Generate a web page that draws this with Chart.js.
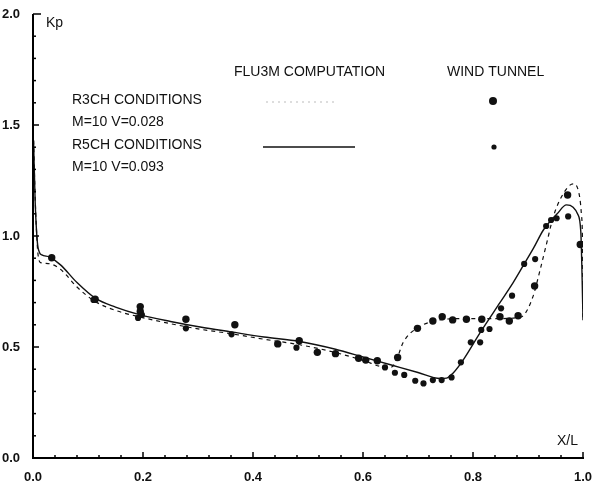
<!DOCTYPE html>
<html>
<head>
<meta charset="utf-8">
<script src="https://cdn.jsdelivr.net/npm/chart.js@4/dist/chart.umd.min.js"></script>
<style>
  html, body { margin: 0; padding: 0; background: #fff; }
  canvas { display: block; }
</style>
</head>
<body>
<canvas id="c" width="592" height="481"></canvas>
<script>
// ---- Data ----
// FLU3M computation, R5CH conditions (solid line)
const r5chCompX = [0.001, 0.004, 0.008, 0.012, 0.016, 0.03, 0.05, 0.08, 0.113, 0.15, 0.195, 0.25, 0.304, 0.36, 0.42, 0.485, 0.55, 0.60, 0.65, 0.70, 0.74, 0.752, 0.764, 0.782, 0.813, 0.849, 0.873, 0.891, 0.91, 0.928, 0.953, 0.970, 0.982, 0.990, 0.996, 0.9985, 1.0];
const r5chCompY = [1.43, 1.15, 0.97, 0.925, 0.915, 0.905, 0.87, 0.79, 0.72, 0.68, 0.645, 0.615, 0.59, 0.568, 0.545, 0.525, 0.49, 0.455, 0.42, 0.385, 0.358, 0.36, 0.383, 0.441, 0.565, 0.70, 0.79, 0.865, 0.945, 1.027, 1.10, 1.14, 1.13, 1.10, 1.02, 0.80, 0.62];
// FLU3M computation, R3CH conditions (dashed line)
const r3chCompX = [0.001, 0.004, 0.008, 0.011, 0.014, 0.03, 0.05, 0.08, 0.113, 0.15, 0.195, 0.25, 0.304, 0.36, 0.42, 0.485, 0.55, 0.60, 0.64, 0.652, 0.662, 0.673, 0.698, 0.727, 0.76, 0.80, 0.85, 0.88, 0.891, 0.909, 0.922, 0.934, 0.946, 0.964, 0.982, 0.992, 0.997, 0.9992, 1.0];
const r3chCompY = [1.43, 1.17, 0.95, 0.89, 0.88, 0.875, 0.85, 0.77, 0.705, 0.665, 0.635, 0.605, 0.58, 0.56, 0.535, 0.51, 0.475, 0.44, 0.41, 0.41, 0.45, 0.52, 0.585, 0.615, 0.627, 0.628, 0.628, 0.632, 0.64, 0.727, 0.847, 0.968, 1.087, 1.19, 1.235, 1.20, 1.10, 0.95, 0.62];
// Wind tunnel, R3CH conditions (large dots)
const r3chWindX = [0.034, 0.113, 0.195, 0.195, 0.278, 0.367, 0.445, 0.484, 0.517, 0.550, 0.592, 0.605, 0.626, 0.663, 0.699, 0.727, 0.744, 0.763, 0.788, 0.816, 0.849, 0.866, 0.882, 0.912, 0.972, 0.995];
const r3chWindY = [0.902, 0.715, 0.682, 0.660, 0.625, 0.600, 0.514, 0.528, 0.476, 0.470, 0.449, 0.441, 0.438, 0.453, 0.584, 0.617, 0.636, 0.622, 0.625, 0.625, 0.636, 0.617, 0.641, 0.775, 1.185, 0.962];
// Wind tunnel, R5CH conditions (small dots)
const r5chWindX = [0.110, 0.191, 0.198, 0.278, 0.361, 0.479, 0.640, 0.658, 0.675, 0.695, 0.710, 0.727, 0.743, 0.761, 0.778, 0.796, 0.813, 0.815, 0.830, 0.851, 0.871, 0.893, 0.913, 0.933, 0.942, 0.952, 0.973];
const r5chWindY = [0.712, 0.631, 0.645, 0.584, 0.557, 0.497, 0.408, 0.384, 0.374, 0.348, 0.336, 0.351, 0.351, 0.363, 0.431, 0.521, 0.521, 0.577, 0.581, 0.674, 0.731, 0.874, 0.896, 1.045, 1.072, 1.080, 1.088];
// Axis ticks
const xMajorTicks = [0.0, 0.2, 0.4, 0.6, 0.8, 1.0];
const yMajorTicks = [0.0, 0.5, 1.0, 1.5, 2.0];

const pts = (xs, ys) => xs.map((x, i) => ({ x: x, y: ys[i] }));
const INK = '#111';

const axisDecor = {
  id: 'axisDecor',
  afterDraw(chart) {
    const ctx = chart.ctx;
    const xs = chart.scales.x, ys = chart.scales.y;
    const a = chart.chartArea;
    const px = v => a.left + (v - xs.min) / (xs.max - xs.min) * (a.right - a.left);
    const py = v => a.bottom - (v - ys.min) / (ys.max - ys.min) * (a.bottom - a.top);
    ctx.save();
    ctx.setLineDash([]);
    ctx.lineDashOffset = 0;
    ctx.globalAlpha = 1;
    ctx.strokeStyle = '#000000';
    ctx.lineWidth = 2;
    // axis lines
    ctx.beginPath();
    ctx.moveTo(a.left, a.top);
    ctx.lineTo(a.left, a.bottom);
    ctx.lineTo(a.right + 1, a.bottom);
    ctx.stroke();
    ctx.lineWidth = 1.5;
    // y minor/major ticks (inside)
    for (let i = 0; i <= 20; i++) {
      const p = py(i / 10);
      const len = (i === 20) ? 8 : ((i % 5 === 0) ? 6 : 3);
      ctx.beginPath();
      ctx.moveTo(a.left, p);
      ctx.lineTo(a.left + len, p);
      ctx.stroke();
    }
    // x minor/major ticks (inside)
    for (let i = 0; i <= 25; i++) {
      const p = px(i * 0.04);
      const len = (i % 5 === 0) ? 6 : 3;
      ctx.beginPath();
      ctx.moveTo(p, a.bottom);
      ctx.lineTo(p, a.bottom - len);
      ctx.stroke();
    }
    // Axis titles
    ctx.fillStyle = INK;
    ctx.font = '14px "Liberation Sans", Arial, sans-serif';
    ctx.textBaseline = 'middle';
    ctx.textAlign = 'left';
    ctx.fillText('Kp', 46, 23);
    ctx.fillText('X/L', 557, 441);
    // Legend text
    ctx.fillText('FLU3M COMPUTATION', 234, 72);
    ctx.fillText('WIND TUNNEL', 447, 72);
    ctx.fillText('R3CH CONDITIONS', 72, 100);
    ctx.fillText('M=10 V=0.028', 72, 122);
    ctx.fillText('R5CH CONDITIONS', 72, 145);
    ctx.fillText('M=10 V=0.093', 72, 167);
    // Legend line samples
    ctx.strokeStyle = '#bbb';
    ctx.lineWidth = 1;
    ctx.setLineDash([2, 4]);
    ctx.beginPath(); ctx.moveTo(266, 102); ctx.lineTo(334, 102); ctx.stroke();
    ctx.setLineDash([]);
    ctx.strokeStyle = INK;
    ctx.lineWidth = 1.3;
    ctx.beginPath(); ctx.moveTo(263, 147); ctx.lineTo(355, 147); ctx.stroke();
    // Legend markers
    ctx.fillStyle = INK;
    ctx.beginPath(); ctx.arc(493, 101, 4, 0, Math.PI * 2); ctx.fill();
    ctx.beginPath(); ctx.arc(494, 147, 2.6, 0, Math.PI * 2); ctx.fill();
    ctx.restore();
  }
};

new Chart(document.getElementById('c'), {
  type: 'line',
  data: {
    datasets: [
      {
        label: 'R5CH FLU3M',
        data: pts(r5chCompX, r5chCompY),
        borderColor: INK, borderWidth: 1.4,
        pointRadius: 0, cubicInterpolationMode: 'monotone', fill: false
      },
      {
        label: 'R3CH FLU3M',
        data: pts(r3chCompX, r3chCompY),
        borderColor: INK, borderWidth: 1.2, borderDash: [4, 4],
        pointRadius: 0, cubicInterpolationMode: 'monotone', fill: false
      },
      {
        label: 'R3CH wind tunnel',
        data: pts(r3chWindX, r3chWindY),
        showLine: false, pointRadius: 3.7, pointBorderWidth: 0,
        pointBackgroundColor: INK, borderColor: INK
      },
      {
        label: 'R5CH wind tunnel',
        data: pts(r5chWindX, r5chWindY),
        showLine: false, pointRadius: 3.1, pointBorderWidth: 0,
        pointBackgroundColor: INK, borderColor: INK
      }
    ]
  },
  options: {
    responsive: false,
    animation: false,
    layout: { padding: { top: 14, right: 0, left: 0, bottom: 0 } },
    plugins: { legend: { display: false }, tooltip: { enabled: false } },
    scales: {
      x: {
        type: 'linear', min: 0, max: 1,
        afterBuildTicks: s => { s.ticks = xMajorTicks.map(v => ({ value: v })); },
        afterFit: s => { s.height = 23; s.paddingRight = 9; s.paddingLeft = 0; },
        ticks: { callback: v => Number(v).toFixed(1), color: INK, padding: 4, maxRotation: 0,
                 font: { family: '"Liberation Sans", Arial, sans-serif', size: 13, weight: 'bold' } },
        grid: { display: false },
        border: { display: false }
      },
      y: {
        type: 'linear', min: 0, max: 2,
        afterBuildTicks: s => { s.ticks = yMajorTicks.map(v => ({ value: v })); },
        afterFit: s => { s.width = 33; },
        ticks: { callback: v => Number(v).toFixed(1), color: INK, padding: 5,
                 font: { family: '"Liberation Sans", Arial, sans-serif', size: 13, weight: 'bold' } },
        grid: { display: false },
        border: { display: false }
      }
    }
  },
  plugins: [axisDecor]
});
</script>
</body>
</html>
